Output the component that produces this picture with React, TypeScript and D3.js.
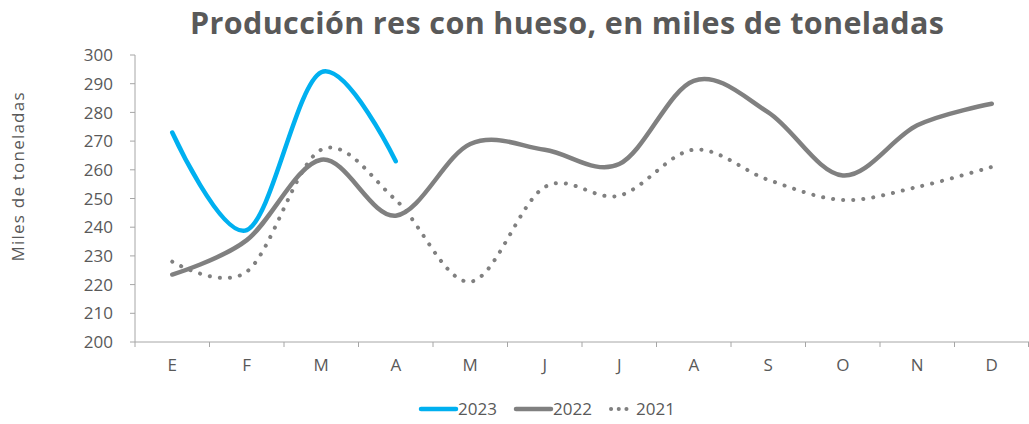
import React from "react";
import * as d3 from "d3";

const months = ["E", "F", "M", "A", "M", "J", "J", "A", "S", "O", "N", "D"];
const yTicks = [200, 210, 220, 230, 240, 250, 260, 270, 280, 290, 300];
const v2023 = [273, 239, 294, 263];
const v2022 = [223.5, 235.5, 263.5, 244, 269, 267, 262, 291, 280, 258, 275.5, 283];
const v2021 = [228, 224.5, 267, 249.5, 221, 254, 251, 267, 256.5, 249.5, 254, 261];
const seriesNames = ["2023", "2022", "2021"];

const W = 1029, H = 424;
const left = 135, right = 1029, top = 55, bottom = 342;
const font = "'Century Gothic', 'Open Sans', sans-serif";
const textColor = "#595959";
const axisColor = "#A6A6A6";

export default function App() {
  const x = d3.scaleBand<number>().domain(d3.range(12)).range([left, right]);
  const y = d3.scaleLinear().domain([200, 300]).range([bottom, top]);
  const line = d3
    .line<number>()
    .x((_, i) => (x(i) as number) + x.bandwidth() / 2)
    .y((d) => y(d))
    .curve(d3.curveCardinal.tension(0));

  return (
    <svg width={W} height={H} style={{ position: "absolute", left: 0, top: 0, background: "#fff" }}>
      <text x={190} y={34} textLength={754} lengthAdjust="spacing" fontFamily={font} fontWeight="bold" fontSize={30.5} fill={textColor}>
        Producción res con hueso, en miles de toneladas
      </text>
      {/* y axis */}
      <line x1={left} x2={left} y1={top} y2={bottom} stroke={axisColor} strokeWidth={1} />
      {yTicks.map((t) => (
        <g key={t}>
          <line x1={left - 5} x2={left} y1={y(t)} y2={y(t)} stroke={axisColor} />
          <text x={113} y={y(t)} dy="0.36em" textAnchor="end" fontFamily={font} fontSize={17} fill={textColor}>
            {t}
          </text>
        </g>
      ))}
      <text
        transform={`translate(24, 177) rotate(-90)`}
        textAnchor="middle"
        textLength={169}
        lengthAdjust="spacing"
        fontFamily={font}
        fontSize={17}
        fill={textColor}
      >
        Miles de toneladas
      </text>
      {/* x axis */}
      <line x1={left} x2={right} y1={bottom} y2={bottom} stroke={axisColor} />
      {d3.range(13).map((i) => {
        const px = i < 12 ? (x(i) as number) : right - 0.5;
        return <line key={i} x1={px} x2={px} y1={bottom} y2={bottom + 5} stroke={axisColor} />;
      })}
      {months.map((m, i) => (
        <text
          key={i}
          x={(x(i) as number) + x.bandwidth() / 2}
          y={371}
          textAnchor="middle"
          fontFamily={font}
          fontSize={17}
          fill={textColor}
        >
          {m}
        </text>
      ))}
      {/* series */}
      <path d={line(v2021) || ""} fill="none" stroke="#808080" strokeWidth={4} strokeDasharray="0.1 10" strokeLinecap="round" />
      <path d={line(v2022) || ""} fill="none" stroke="#808080" strokeWidth={4.5} strokeLinecap="round" />
      <path d={line(v2023) || ""} fill="none" stroke="#00B0F0" strokeWidth={4.5} strokeLinecap="round" />
      {/* legend */}
      <line x1={421} x2={456} y1={409} y2={409} stroke="#00B0F0" strokeWidth={4.5} strokeLinecap="round" />
      <text x={458} y={415} fontFamily={font} fontSize={17} fill={textColor}>{seriesNames[0]}</text>
      <line x1={516} x2={551} y1={409} y2={409} stroke="#808080" strokeWidth={4.5} strokeLinecap="round" />
      <text x={553} y={415} fontFamily={font} fontSize={17} fill={textColor}>{seriesNames[1]}</text>
      <line x1={611} x2={634} y1={409} y2={409} stroke="#808080" strokeWidth={4} strokeDasharray="0.1 7.6" strokeLinecap="round" />
      <text x={636} y={415} fontFamily={font} fontSize={17} fill={textColor}>{seriesNames[2]}</text>
    </svg>
  );
}
